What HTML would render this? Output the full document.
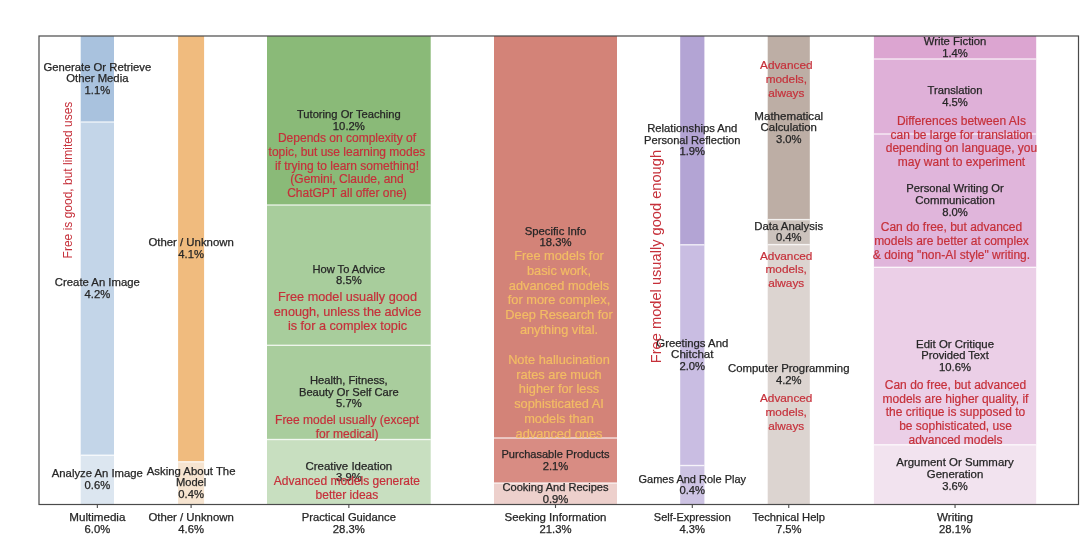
<!DOCTYPE html>
<html><head><meta charset="utf-8"><style>
html,body{margin:0;padding:0;background:#fff;width:1080px;height:553px;overflow:hidden}
svg{display:block;font-family:"Liberation Sans",sans-serif;filter:blur(0.3px)}
</style></head><body>
<svg width="1080" height="553" viewBox="0 0 1080 553">
<rect x="0" y="0" width="1080" height="553" fill="#ffffff"/>
<rect x="80.7" y="36" width="33.30" height="86.00" fill="#a9c2de"/>
<rect x="80.7" y="122" width="33.30" height="333.20" fill="#c3d5e8"/>
<rect x="80.7" y="455.2" width="33.30" height="49.30" fill="#dce6f0"/>
<rect x="80.7" y="121.30" width="33.30" height="1.4" fill="#ffffff" fill-opacity="0.75"/>
<rect x="80.7" y="454.50" width="33.30" height="1.4" fill="#ffffff" fill-opacity="0.75"/>
<rect x="178.1" y="36" width="26.00" height="425.80" fill="#f0bb7e"/>
<rect x="178.1" y="461.8" width="26.00" height="42.70" fill="#f6e4d0"/>
<rect x="178.1" y="461.10" width="26.00" height="1.4" fill="#ffffff" fill-opacity="0.75"/>
<rect x="267.0" y="36" width="163.70" height="169.00" fill="#8aba78"/>
<rect x="267.0" y="205" width="163.70" height="140.30" fill="#a8cd9c"/>
<rect x="267.0" y="345.3" width="163.70" height="94.20" fill="#a9cd9d"/>
<rect x="267.0" y="439.5" width="163.70" height="65.00" fill="#c8dfc0"/>
<rect x="267.0" y="204.30" width="163.70" height="1.4" fill="#ffffff" fill-opacity="0.75"/>
<rect x="267.0" y="344.60" width="163.70" height="1.4" fill="#ffffff" fill-opacity="0.75"/>
<rect x="267.0" y="438.80" width="163.70" height="1.4" fill="#ffffff" fill-opacity="0.75"/>
<rect x="494.0" y="36" width="123.00" height="402.00" fill="#d38378"/>
<rect x="494.0" y="438" width="123.00" height="45.00" fill="#d88c83"/>
<rect x="494.0" y="483" width="123.00" height="21.50" fill="#edd0cc"/>
<rect x="494.0" y="437.30" width="123.00" height="1.4" fill="#ffffff" fill-opacity="0.75"/>
<rect x="494.0" y="482.30" width="123.00" height="1.4" fill="#ffffff" fill-opacity="0.75"/>
<rect x="680.2" y="36" width="24.20" height="208.80" fill="#b3a4d4"/>
<rect x="680.2" y="244.8" width="24.20" height="220.70" fill="#c9bde2"/>
<rect x="680.2" y="465.5" width="24.20" height="39.00" fill="#cdc3e3"/>
<rect x="680.2" y="244.10" width="24.20" height="1.4" fill="#ffffff" fill-opacity="0.75"/>
<rect x="680.2" y="464.80" width="24.20" height="1.4" fill="#ffffff" fill-opacity="0.75"/>
<rect x="767.7" y="36" width="42.10" height="183.60" fill="#bdaea5"/>
<rect x="767.7" y="219.6" width="42.10" height="25.00" fill="#cbc2bc"/>
<rect x="767.7" y="244.6" width="42.10" height="259.90" fill="#dcd4d0"/>
<rect x="767.7" y="218.90" width="42.10" height="1.4" fill="#ffffff" fill-opacity="0.75"/>
<rect x="767.7" y="243.90" width="42.10" height="1.4" fill="#ffffff" fill-opacity="0.75"/>
<rect x="873.9" y="36" width="162.30" height="23.00" fill="#dca5d1"/>
<rect x="873.9" y="59" width="162.30" height="75.00" fill="#dfb0d8"/>
<rect x="873.9" y="134" width="162.30" height="133.30" fill="#e0b5db"/>
<rect x="873.9" y="267.3" width="162.30" height="177.50" fill="#ebcfe7"/>
<rect x="873.9" y="444.8" width="162.30" height="59.70" fill="#f2e3ef"/>
<rect x="873.9" y="58.30" width="162.30" height="1.4" fill="#ffffff" fill-opacity="0.75"/>
<rect x="873.9" y="133.30" width="162.30" height="1.4" fill="#ffffff" fill-opacity="0.75"/>
<rect x="873.9" y="266.60" width="162.30" height="1.4" fill="#ffffff" fill-opacity="0.75"/>
<rect x="873.9" y="444.10" width="162.30" height="1.4" fill="#ffffff" fill-opacity="0.75"/>
<rect x="39" y="36" width="1039.5" height="468.5" fill="none" stroke="#4a4a4a" stroke-width="1.2"/>
<line x1="97.35" y1="504.5" x2="97.35" y2="508.0" stroke="#4a4a4a" stroke-width="1.1"/>
<text x="97.35" y="521.40" font-size="10.6" fill="#262626" text-anchor="middle" textLength="56.15" lengthAdjust="spacingAndGlyphs" stroke="#262626" stroke-width="0.25">Multimedia</text>
<text x="97.35" y="532.90" font-size="10.6" fill="#262626" text-anchor="middle" textLength="25.66" lengthAdjust="spacingAndGlyphs" stroke="#262626" stroke-width="0.25">6.0%</text>
<line x1="191.10" y1="504.5" x2="191.10" y2="508.0" stroke="#4a4a4a" stroke-width="1.1"/>
<text x="191.10" y="521.40" font-size="10.6" fill="#262626" text-anchor="middle" textLength="85.38" lengthAdjust="spacingAndGlyphs" stroke="#262626" stroke-width="0.25">Other / Unknown</text>
<text x="191.10" y="532.90" font-size="10.6" fill="#262626" text-anchor="middle" textLength="25.66" lengthAdjust="spacingAndGlyphs" stroke="#262626" stroke-width="0.25">4.6%</text>
<line x1="348.85" y1="504.5" x2="348.85" y2="508.0" stroke="#4a4a4a" stroke-width="1.1"/>
<text x="348.85" y="521.40" font-size="10.6" fill="#262626" text-anchor="middle" textLength="94.14" lengthAdjust="spacingAndGlyphs" stroke="#262626" stroke-width="0.25">Practical Guidance</text>
<text x="348.85" y="532.90" font-size="10.6" fill="#262626" text-anchor="middle" textLength="32.08" lengthAdjust="spacingAndGlyphs" stroke="#262626" stroke-width="0.25">28.3%</text>
<line x1="555.50" y1="504.5" x2="555.50" y2="508.0" stroke="#4a4a4a" stroke-width="1.1"/>
<text x="555.50" y="521.40" font-size="10.6" fill="#262626" text-anchor="middle" textLength="101.98" lengthAdjust="spacingAndGlyphs" stroke="#262626" stroke-width="0.25">Seeking Information</text>
<text x="555.50" y="532.90" font-size="10.6" fill="#262626" text-anchor="middle" textLength="32.08" lengthAdjust="spacingAndGlyphs" stroke="#262626" stroke-width="0.25">21.3%</text>
<line x1="692.30" y1="504.5" x2="692.30" y2="508.0" stroke="#4a4a4a" stroke-width="1.1"/>
<text x="692.30" y="521.40" font-size="10.6" fill="#262626" text-anchor="middle" textLength="76.91" lengthAdjust="spacingAndGlyphs" stroke="#262626" stroke-width="0.25">Self-Expression</text>
<text x="692.30" y="532.90" font-size="10.6" fill="#262626" text-anchor="middle" textLength="25.66" lengthAdjust="spacingAndGlyphs" stroke="#262626" stroke-width="0.25">4.3%</text>
<line x1="788.75" y1="504.5" x2="788.75" y2="508.0" stroke="#4a4a4a" stroke-width="1.1"/>
<text x="788.75" y="521.40" font-size="10.6" fill="#262626" text-anchor="middle" textLength="72.62" lengthAdjust="spacingAndGlyphs" stroke="#262626" stroke-width="0.25">Technical Help</text>
<text x="788.75" y="532.90" font-size="10.6" fill="#262626" text-anchor="middle" textLength="25.66" lengthAdjust="spacingAndGlyphs" stroke="#262626" stroke-width="0.25">7.5%</text>
<line x1="955.05" y1="504.5" x2="955.05" y2="508.0" stroke="#4a4a4a" stroke-width="1.1"/>
<text x="955.05" y="521.40" font-size="10.6" fill="#262626" text-anchor="middle" textLength="36.07" lengthAdjust="spacingAndGlyphs" stroke="#262626" stroke-width="0.25">Writing</text>
<text x="955.05" y="532.90" font-size="10.6" fill="#262626" text-anchor="middle" textLength="32.08" lengthAdjust="spacingAndGlyphs" stroke="#262626" stroke-width="0.25">28.1%</text>
<text x="97.35" y="70.75" font-size="10.6" fill="#262626" text-anchor="middle" textLength="107.80" lengthAdjust="spacingAndGlyphs" stroke="#262626" stroke-width="0.25">Generate Or Retrieve</text>
<text x="97.35" y="82.30" font-size="10.6" fill="#262626" text-anchor="middle" textLength="62.22" lengthAdjust="spacingAndGlyphs" stroke="#262626" stroke-width="0.25">Other Media</text>
<text x="97.35" y="93.85" font-size="10.6" fill="#262626" text-anchor="middle" textLength="25.66" lengthAdjust="spacingAndGlyphs" stroke="#262626" stroke-width="0.25">1.1%</text>
<text x="97.35" y="286.13" font-size="10.6" fill="#262626" text-anchor="middle" textLength="84.92" lengthAdjust="spacingAndGlyphs" stroke="#262626" stroke-width="0.25">Create An Image</text>
<text x="97.35" y="297.68" font-size="10.6" fill="#262626" text-anchor="middle" textLength="25.66" lengthAdjust="spacingAndGlyphs" stroke="#262626" stroke-width="0.25">4.2%</text>
<text x="97.35" y="477.38" font-size="10.6" fill="#262626" text-anchor="middle" textLength="91.16" lengthAdjust="spacingAndGlyphs" stroke="#262626" stroke-width="0.25">Analyze An Image</text>
<text x="97.35" y="488.93" font-size="10.6" fill="#262626" text-anchor="middle" textLength="25.66" lengthAdjust="spacingAndGlyphs" stroke="#262626" stroke-width="0.25">0.6%</text>
<text x="191.10" y="246.43" font-size="10.6" fill="#262626" text-anchor="middle" textLength="85.38" lengthAdjust="spacingAndGlyphs" stroke="#262626" stroke-width="0.25">Other / Unknown</text>
<text x="191.10" y="257.98" font-size="10.6" fill="#262626" text-anchor="middle" textLength="25.66" lengthAdjust="spacingAndGlyphs" stroke="#262626" stroke-width="0.25">4.1%</text>
<text x="191.10" y="474.90" font-size="10.6" fill="#262626" text-anchor="middle" textLength="88.70" lengthAdjust="spacingAndGlyphs" stroke="#262626" stroke-width="0.25">Asking About The</text>
<text x="191.10" y="486.45" font-size="10.6" fill="#262626" text-anchor="middle" textLength="30.33" lengthAdjust="spacingAndGlyphs" stroke="#262626" stroke-width="0.25">Model</text>
<text x="191.10" y="498.00" font-size="10.6" fill="#262626" text-anchor="middle" textLength="25.66" lengthAdjust="spacingAndGlyphs" stroke="#262626" stroke-width="0.25">0.4%</text>
<text x="348.85" y="118.02" font-size="10.6" fill="#262626" text-anchor="middle" textLength="103.90" lengthAdjust="spacingAndGlyphs" stroke="#262626" stroke-width="0.25">Tutoring Or Teaching</text>
<text x="348.85" y="129.57" font-size="10.6" fill="#262626" text-anchor="middle" textLength="32.08" lengthAdjust="spacingAndGlyphs" stroke="#262626" stroke-width="0.25">10.2%</text>
<text x="348.85" y="272.68" font-size="10.6" fill="#262626" text-anchor="middle" textLength="72.78" lengthAdjust="spacingAndGlyphs" stroke="#262626" stroke-width="0.25">How To Advice</text>
<text x="348.85" y="284.23" font-size="10.6" fill="#262626" text-anchor="middle" textLength="25.66" lengthAdjust="spacingAndGlyphs" stroke="#262626" stroke-width="0.25">8.5%</text>
<text x="348.85" y="384.15" font-size="10.6" fill="#262626" text-anchor="middle" textLength="77.77" lengthAdjust="spacingAndGlyphs" stroke="#262626" stroke-width="0.25">Health, Fitness,</text>
<text x="348.85" y="395.70" font-size="10.6" fill="#262626" text-anchor="middle" textLength="99.78" lengthAdjust="spacingAndGlyphs" stroke="#262626" stroke-width="0.25">Beauty Or Self Care</text>
<text x="348.85" y="407.25" font-size="10.6" fill="#262626" text-anchor="middle" textLength="25.66" lengthAdjust="spacingAndGlyphs" stroke="#262626" stroke-width="0.25">5.7%</text>
<text x="348.85" y="469.53" font-size="10.6" fill="#262626" text-anchor="middle" textLength="86.70" lengthAdjust="spacingAndGlyphs" stroke="#262626" stroke-width="0.25">Creative Ideation</text>
<text x="348.85" y="481.08" font-size="10.6" fill="#262626" text-anchor="middle" textLength="25.66" lengthAdjust="spacingAndGlyphs" stroke="#262626" stroke-width="0.25">3.9%</text>
<text x="555.50" y="234.53" font-size="10.6" fill="#262626" text-anchor="middle" textLength="61.64" lengthAdjust="spacingAndGlyphs" stroke="#262626" stroke-width="0.25">Specific Info</text>
<text x="555.50" y="246.08" font-size="10.6" fill="#262626" text-anchor="middle" textLength="32.08" lengthAdjust="spacingAndGlyphs" stroke="#262626" stroke-width="0.25">18.3%</text>
<text x="555.50" y="458.03" font-size="10.6" fill="#262626" text-anchor="middle" textLength="108.09" lengthAdjust="spacingAndGlyphs" stroke="#262626" stroke-width="0.25">Purchasable Products</text>
<text x="555.50" y="469.58" font-size="10.6" fill="#262626" text-anchor="middle" textLength="25.66" lengthAdjust="spacingAndGlyphs" stroke="#262626" stroke-width="0.25">2.1%</text>
<text x="555.50" y="491.28" font-size="10.6" fill="#262626" text-anchor="middle" textLength="106.05" lengthAdjust="spacingAndGlyphs" stroke="#262626" stroke-width="0.25">Cooking And Recipes</text>
<text x="555.50" y="502.83" font-size="10.6" fill="#262626" text-anchor="middle" textLength="25.66" lengthAdjust="spacingAndGlyphs" stroke="#262626" stroke-width="0.25">0.9%</text>
<text x="692.30" y="132.15" font-size="10.6" fill="#262626" text-anchor="middle" textLength="90.19" lengthAdjust="spacingAndGlyphs" stroke="#262626" stroke-width="0.25">Relationships And</text>
<text x="692.30" y="143.70" font-size="10.6" fill="#262626" text-anchor="middle" textLength="96.40" lengthAdjust="spacingAndGlyphs" stroke="#262626" stroke-width="0.25">Personal Reflection</text>
<text x="692.30" y="155.25" font-size="10.6" fill="#262626" text-anchor="middle" textLength="25.66" lengthAdjust="spacingAndGlyphs" stroke="#262626" stroke-width="0.25">1.9%</text>
<text x="692.30" y="346.90" font-size="10.6" fill="#262626" text-anchor="middle" textLength="71.96" lengthAdjust="spacingAndGlyphs" stroke="#262626" stroke-width="0.25">Greetings And</text>
<text x="692.30" y="358.45" font-size="10.6" fill="#262626" text-anchor="middle" textLength="42.32" lengthAdjust="spacingAndGlyphs" stroke="#262626" stroke-width="0.25">Chitchat</text>
<text x="692.30" y="370.00" font-size="10.6" fill="#262626" text-anchor="middle" textLength="25.66" lengthAdjust="spacingAndGlyphs" stroke="#262626" stroke-width="0.25">2.0%</text>
<text x="692.30" y="482.53" font-size="10.6" fill="#262626" text-anchor="middle" textLength="107.51" lengthAdjust="spacingAndGlyphs" stroke="#262626" stroke-width="0.25">Games And Role Play</text>
<text x="692.30" y="494.08" font-size="10.6" fill="#262626" text-anchor="middle" textLength="25.66" lengthAdjust="spacingAndGlyphs" stroke="#262626" stroke-width="0.25">0.4%</text>
<text x="788.75" y="119.55" font-size="10.6" fill="#262626" text-anchor="middle" textLength="68.82" lengthAdjust="spacingAndGlyphs" stroke="#262626" stroke-width="0.25">Mathematical</text>
<text x="788.75" y="131.10" font-size="10.6" fill="#262626" text-anchor="middle" textLength="56.34" lengthAdjust="spacingAndGlyphs" stroke="#262626" stroke-width="0.25">Calculation</text>
<text x="788.75" y="142.65" font-size="10.6" fill="#262626" text-anchor="middle" textLength="25.66" lengthAdjust="spacingAndGlyphs" stroke="#262626" stroke-width="0.25">3.0%</text>
<text x="788.75" y="229.62" font-size="10.6" fill="#262626" text-anchor="middle" textLength="68.94" lengthAdjust="spacingAndGlyphs" stroke="#262626" stroke-width="0.25">Data Analysis</text>
<text x="788.75" y="241.18" font-size="10.6" fill="#262626" text-anchor="middle" textLength="25.66" lengthAdjust="spacingAndGlyphs" stroke="#262626" stroke-width="0.25">0.4%</text>
<text x="788.75" y="372.08" font-size="10.6" fill="#262626" text-anchor="middle" textLength="121.49" lengthAdjust="spacingAndGlyphs" stroke="#262626" stroke-width="0.25">Computer Programming</text>
<text x="788.75" y="383.63" font-size="10.6" fill="#262626" text-anchor="middle" textLength="25.66" lengthAdjust="spacingAndGlyphs" stroke="#262626" stroke-width="0.25">4.2%</text>
<text x="955.05" y="45.02" font-size="10.6" fill="#262626" text-anchor="middle" textLength="62.65" lengthAdjust="spacingAndGlyphs" stroke="#262626" stroke-width="0.25">Write Fiction</text>
<text x="955.05" y="56.58" font-size="10.6" fill="#262626" text-anchor="middle" textLength="25.66" lengthAdjust="spacingAndGlyphs" stroke="#262626" stroke-width="0.25">1.4%</text>
<text x="955.05" y="94.02" font-size="10.6" fill="#262626" text-anchor="middle" textLength="55.03" lengthAdjust="spacingAndGlyphs" stroke="#262626" stroke-width="0.25">Translation</text>
<text x="955.05" y="105.57" font-size="10.6" fill="#262626" text-anchor="middle" textLength="25.66" lengthAdjust="spacingAndGlyphs" stroke="#262626" stroke-width="0.25">4.5%</text>
<text x="955.05" y="192.40" font-size="10.6" fill="#262626" text-anchor="middle" textLength="97.53" lengthAdjust="spacingAndGlyphs" stroke="#262626" stroke-width="0.25">Personal Writing Or</text>
<text x="955.05" y="203.95" font-size="10.6" fill="#262626" text-anchor="middle" textLength="79.61" lengthAdjust="spacingAndGlyphs" stroke="#262626" stroke-width="0.25">Communication</text>
<text x="955.05" y="215.50" font-size="10.6" fill="#262626" text-anchor="middle" textLength="25.66" lengthAdjust="spacingAndGlyphs" stroke="#262626" stroke-width="0.25">8.0%</text>
<text x="955.05" y="347.80" font-size="10.6" fill="#262626" text-anchor="middle" textLength="77.89" lengthAdjust="spacingAndGlyphs" stroke="#262626" stroke-width="0.25">Edit Or Critique</text>
<text x="955.05" y="359.35" font-size="10.6" fill="#262626" text-anchor="middle" textLength="67.48" lengthAdjust="spacingAndGlyphs" stroke="#262626" stroke-width="0.25">Provided Text</text>
<text x="955.05" y="370.90" font-size="10.6" fill="#262626" text-anchor="middle" textLength="32.08" lengthAdjust="spacingAndGlyphs" stroke="#262626" stroke-width="0.25">10.6%</text>
<text x="955.05" y="466.40" font-size="10.6" fill="#262626" text-anchor="middle" textLength="117.44" lengthAdjust="spacingAndGlyphs" stroke="#262626" stroke-width="0.25">Argument Or Summary</text>
<text x="955.05" y="477.95" font-size="10.6" fill="#262626" text-anchor="middle" textLength="56.34" lengthAdjust="spacingAndGlyphs" stroke="#262626" stroke-width="0.25">Generation</text>
<text x="955.05" y="489.50" font-size="10.6" fill="#262626" text-anchor="middle" textLength="25.66" lengthAdjust="spacingAndGlyphs" stroke="#262626" stroke-width="0.25">3.6%</text>
<text x="347.00" y="142.20" font-size="12.0" fill="#c6303a" stroke="#c6303a" stroke-width="0.2" text-anchor="middle">Depends on complexity of</text>
<text x="347.00" y="155.88" font-size="12.0" fill="#c6303a" stroke="#c6303a" stroke-width="0.2" text-anchor="middle">topic, but use learning modes</text>
<text x="347.00" y="169.56" font-size="12.0" fill="#c6303a" stroke="#c6303a" stroke-width="0.2" text-anchor="middle">if trying to learn something!</text>
<text x="347.00" y="183.24" font-size="12.0" fill="#c6303a" stroke="#c6303a" stroke-width="0.2" text-anchor="middle">(Gemini, Claude, and</text>
<text x="347.00" y="196.92" font-size="12.0" fill="#c6303a" stroke="#c6303a" stroke-width="0.2" text-anchor="middle">ChatGPT all offer one)</text>
<text x="347.50" y="301.40" font-size="12.7" fill="#c6303a" stroke="#c6303a" stroke-width="0.2" text-anchor="middle">Free model usually good</text>
<text x="347.50" y="315.85" font-size="12.7" fill="#c6303a" stroke="#c6303a" stroke-width="0.2" text-anchor="middle">enough, unless the advice</text>
<text x="347.50" y="330.30" font-size="12.7" fill="#c6303a" stroke="#c6303a" stroke-width="0.2" text-anchor="middle">is for a complex topic</text>
<text x="347.10" y="423.50" font-size="12.0" fill="#c6303a" stroke="#c6303a" stroke-width="0.2" text-anchor="middle">Free model usually (except</text>
<text x="347.10" y="437.70" font-size="12.0" fill="#c6303a" stroke="#c6303a" stroke-width="0.2" text-anchor="middle">for medical)</text>
<text x="346.90" y="485.00" font-size="12.0" fill="#c6303a" stroke="#c6303a" stroke-width="0.2" text-anchor="middle">Advanced models generate</text>
<text x="346.90" y="498.50" font-size="12.0" fill="#c6303a" stroke="#c6303a" stroke-width="0.2" text-anchor="middle">better ideas</text>
<text x="559.00" y="260.00" font-size="12.8" fill="#f3bd64" stroke="#f3bd64" stroke-width="0.2" text-anchor="middle">Free models for</text>
<text x="559.00" y="274.82" font-size="12.8" fill="#f3bd64" stroke="#f3bd64" stroke-width="0.2" text-anchor="middle">basic work,</text>
<text x="559.00" y="289.64" font-size="12.8" fill="#f3bd64" stroke="#f3bd64" stroke-width="0.2" text-anchor="middle">advanced models</text>
<text x="559.00" y="304.46" font-size="12.8" fill="#f3bd64" stroke="#f3bd64" stroke-width="0.2" text-anchor="middle">for more complex,</text>
<text x="559.00" y="319.28" font-size="12.8" fill="#f3bd64" stroke="#f3bd64" stroke-width="0.2" text-anchor="middle">Deep Research for</text>
<text x="559.00" y="334.10" font-size="12.8" fill="#f3bd64" stroke="#f3bd64" stroke-width="0.2" text-anchor="middle">anything vital.</text>
<text x="559.00" y="363.74" font-size="12.8" fill="#f3bd64" stroke="#f3bd64" stroke-width="0.2" text-anchor="middle">Note hallucination</text>
<text x="559.00" y="378.56" font-size="12.8" fill="#f3bd64" stroke="#f3bd64" stroke-width="0.2" text-anchor="middle">rates are much</text>
<text x="559.00" y="393.38" font-size="12.8" fill="#f3bd64" stroke="#f3bd64" stroke-width="0.2" text-anchor="middle">higher for less</text>
<text x="559.00" y="408.20" font-size="12.8" fill="#f3bd64" stroke="#f3bd64" stroke-width="0.2" text-anchor="middle">sophisticated AI</text>
<text x="559.00" y="423.02" font-size="12.8" fill="#f3bd64" stroke="#f3bd64" stroke-width="0.2" text-anchor="middle">models than</text>
<text x="559.00" y="437.84" font-size="12.8" fill="#f3bd64" stroke="#f3bd64" stroke-width="0.2" text-anchor="middle">advanced ones</text>
<text x="786.30" y="69.20" font-size="11.8" fill="#c6303a" stroke="#c6303a" stroke-width="0.2" text-anchor="middle">Advanced</text>
<text x="786.30" y="82.90" font-size="11.8" fill="#c6303a" stroke="#c6303a" stroke-width="0.2" text-anchor="middle">models,</text>
<text x="786.30" y="96.60" font-size="11.8" fill="#c6303a" stroke="#c6303a" stroke-width="0.2" text-anchor="middle">always</text>
<text x="786.20" y="259.50" font-size="11.8" fill="#c6303a" stroke="#c6303a" stroke-width="0.2" text-anchor="middle">Advanced</text>
<text x="786.20" y="273.20" font-size="11.8" fill="#c6303a" stroke="#c6303a" stroke-width="0.2" text-anchor="middle">models,</text>
<text x="786.20" y="286.90" font-size="11.8" fill="#c6303a" stroke="#c6303a" stroke-width="0.2" text-anchor="middle">always</text>
<text x="786.20" y="402.40" font-size="11.8" fill="#c6303a" stroke="#c6303a" stroke-width="0.2" text-anchor="middle">Advanced</text>
<text x="786.20" y="416.25" font-size="11.8" fill="#c6303a" stroke="#c6303a" stroke-width="0.2" text-anchor="middle">models,</text>
<text x="786.20" y="430.10" font-size="11.8" fill="#c6303a" stroke="#c6303a" stroke-width="0.2" text-anchor="middle">always</text>
<text x="961.50" y="125.00" font-size="12.0" fill="#c6303a" stroke="#c6303a" stroke-width="0.2" text-anchor="middle">Differences between AIs</text>
<text x="961.50" y="138.50" font-size="12.0" fill="#c6303a" stroke="#c6303a" stroke-width="0.2" text-anchor="middle">can be large for translation</text>
<text x="961.50" y="152.00" font-size="12.0" fill="#c6303a" stroke="#c6303a" stroke-width="0.2" text-anchor="middle">depending on language, you</text>
<text x="961.50" y="165.50" font-size="12.0" fill="#c6303a" stroke="#c6303a" stroke-width="0.2" text-anchor="middle">may want to experiment</text>
<text x="951.50" y="231.00" font-size="12.0" fill="#c6303a" stroke="#c6303a" stroke-width="0.2" text-anchor="middle">Can do free, but advanced</text>
<text x="951.50" y="244.90" font-size="12.0" fill="#c6303a" stroke="#c6303a" stroke-width="0.2" text-anchor="middle">models are better at complex</text>
<text x="951.50" y="258.80" font-size="12.0" fill="#c6303a" stroke="#c6303a" stroke-width="0.2" text-anchor="middle">&amp; doing &quot;non-AI style&quot; writing.</text>
<text x="955.50" y="389.00" font-size="12.0" fill="#c6303a" stroke="#c6303a" stroke-width="0.2" text-anchor="middle">Can do free, but advanced</text>
<text x="955.50" y="402.72" font-size="12.0" fill="#c6303a" stroke="#c6303a" stroke-width="0.2" text-anchor="middle">models are higher quality, if</text>
<text x="955.50" y="416.44" font-size="12.0" fill="#c6303a" stroke="#c6303a" stroke-width="0.2" text-anchor="middle">the critique is supposed to</text>
<text x="955.50" y="430.16" font-size="12.0" fill="#c6303a" stroke="#c6303a" stroke-width="0.2" text-anchor="middle">be sophisticated, use</text>
<text x="955.50" y="443.88" font-size="12.0" fill="#c6303a" stroke="#c6303a" stroke-width="0.2" text-anchor="middle">advanced models</text>
<text x="0" y="0" transform="translate(71.8,180.0) rotate(-90)" font-size="12.0" fill="#c6303a" text-anchor="middle">Free is good, but limited uses</text>
<text x="0" y="0" transform="translate(661.0,256.6) rotate(-90)" font-size="14.65" fill="#c6303a" text-anchor="middle">Free model usually good enough</text>
</svg>
</body></html>
